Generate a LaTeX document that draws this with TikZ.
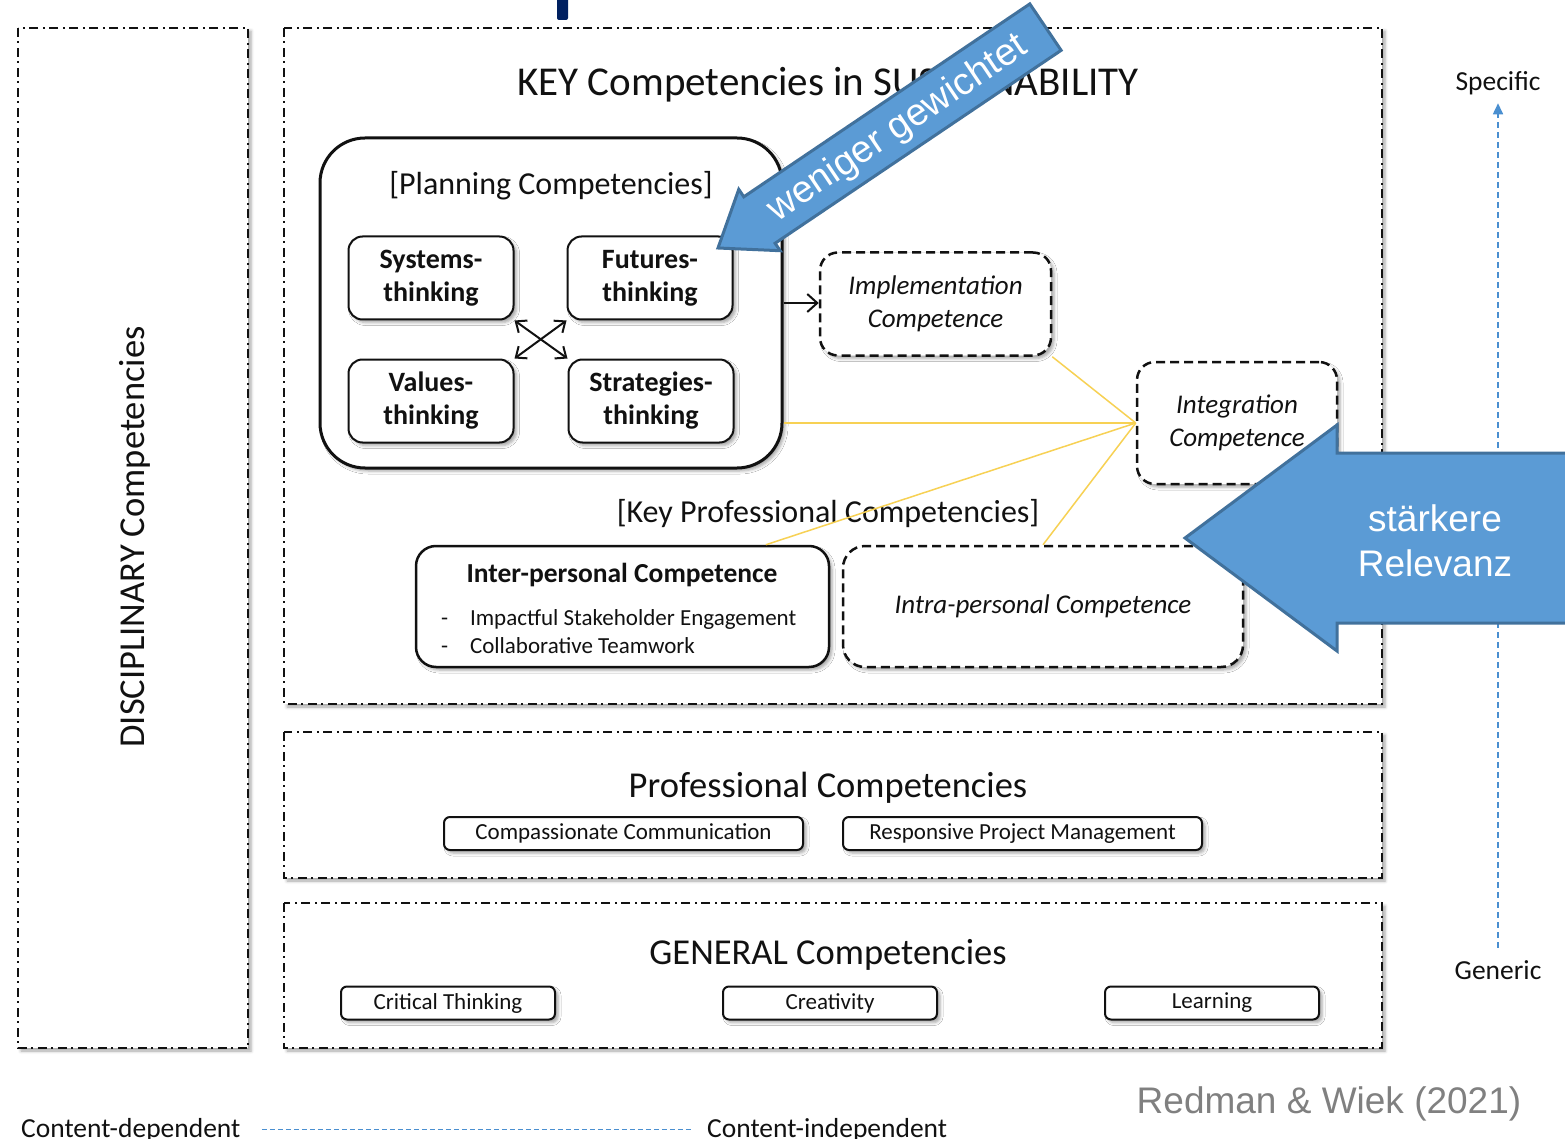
\documentclass[tikz,border=0pt]{standalone}
\usepackage{fontspec}
\setmainfont{Carlito}
\newfontfamily\arialfont{Liberation Sans}
\usetikzlibrary{arrows.meta, positioning, calc, shadows.blur}

\definecolor{arrowblue}{HTML}{5B9BD5}
\definecolor{arrowedge}{HTML}{41719C}
\definecolor{axisblue}{HTML}{4A8FD0}
\definecolor{linkyellow}{HTML}{F7D154}
\definecolor{citegray}{HTML}{808080}
\definecolor{navy}{HTML}{002060}
\definecolor{ink}{HTML}{111111}

\begin{document}
\begin{tikzpicture}[
    x=1pt, y=-1pt,
    every node/.style={text=ink},
    softshadow/.style={blur shadow={shadow xshift=3pt, shadow yshift=-3pt, shadow blur radius=3pt, shadow opacity=35}},
    frame/.style={draw=ink, line width=2.2pt, dash pattern=on 9pt off 4pt on 2pt off 5pt, fill=white, softshadow},
    heading/.style={font=\fontsize{41}{48}\selectfont},
    heading2/.style={font=\fontsize{36.5}{44}\selectfont},
    subhead/.style={font=\fontsize{32}{38}\selectfont},
    planbox/.style={draw=ink, line width=3pt, rounded corners=45pt, fill=white, softshadow},
    thinkbox/.style={draw=ink, line width=2pt, rounded corners=14pt, fill=white, softshadow,
        minimum width=165pt, minimum height=83pt, align=center, font=\bfseries\fontsize{28}{33}\selectfont},
    dashbox/.style={draw=ink, line width=2.5pt, dash pattern=on 9pt off 5pt, rounded corners=18pt,
        fill=white, softshadow, align=center, font=\itshape\fontsize{27}{33}\selectfont},
    solidbox/.style={draw=ink, line width=2.5pt, fill=white, softshadow},
    pillbox/.style={draw=ink, line width=2pt, rounded corners=6pt, fill=white, softshadow,
        minimum height=33pt, inner sep=2pt, font=\fontsize{23}{27}\selectfont},
    bullet/.style={anchor=west, font=\fontsize{23}{27}\selectfont},
    crossarrow/.style={{Straight Barb[length=9pt,width=15pt]}-{Straight Barb[length=9pt,width=15pt]}, line width=2pt, draw=ink},
    plainarrow/.style={-{Straight Barb[length=10pt,width=18pt]}, line width=2pt, draw=ink},
    link/.style={draw=linkyellow, line width=1.5pt},
    axislabel/.style={font=\fontsize{27.5}{32}\selectfont},
    axisline/.style={draw=axisblue, line width=1.6pt, dash pattern=on 6pt off 4pt},
    bluearrow/.style={fill=arrowblue, draw=arrowedge, line width=3pt, line join=miter},
    arrowtext/.style={text=white, font=\arialfont\fontsize{38}{45}\selectfont}
]
\useasboundingbox (0,0) rectangle (1565,1139);

% cut-off title piece
\fill[navy, rounded corners=2pt] (557,-5) rectangle (568,20);

% outer frames
\draw[frame] (18,28) rectangle (248,1048);
\draw[frame] (284,28) rectangle (1382,704);
\draw[frame] (284,732) rectangle (1382,878);
\draw[frame] (284,903) rectangle (1382,1048);

\node[heading2, rotate=90] (disc) at (135,537) {DISCIPLINARY Competencies};
\node[heading] (keytitle) at (828,85) {KEY Competencies in SUSTAINABILITY};

% planning competencies
\node[planbox, minimum width=462pt, minimum height=330pt] (planning) at (551,303) {};
\node[subhead] (plantitle) at (551,186) {[Planning Competencies]};
\node[thinkbox] (sys) at (431,278) {Systems-\\thinking};
\node[thinkbox] (fut) at (650,278) {Futures-\\thinking};
\node[thinkbox] (val) at (431,401) {Values-\\thinking};
\node[thinkbox] (strat) at (651,401) {Strategies-\\thinking};
\draw[crossarrow] (sys.south east) -- (strat.north west);
\draw[crossarrow] (fut.south west) -- (val.north east);

% implementation and integration
\node[dashbox, minimum width=231pt, minimum height=103pt] (impl) at (935.5,304) {Implementation\\Competence};
\node[dashbox, minimum width=200pt, minimum height=122pt] (integ) at (1237,423) {Integration\\Competence};
\draw[plainarrow] (planning.east) -- (planning.east -| impl.west);

% key professional competencies
\node[subhead] (keyprof) at (828,514) {[Key Professional Competencies]};
\node[solidbox, rounded corners=20pt, minimum width=413pt, minimum height=121pt] (interp) at (622.5,606.5) {};
\node[font=\bfseries\fontsize{27.5}{31}\selectfont] (interptitle) at (622,575) {Inter-personal Competence};
\node[bullet] (bulletA) at (437.5,619) {-\hspace{22pt}Impactful Stakeholder Engagement};
\node[bullet] (bulletB) at (437.5,646) {-\hspace{22pt}Collaborative Teamwork};
\node[dashbox, rounded corners=22pt, minimum width=400pt, minimum height=121pt] (intra) at (1043,606.5) {Intra-personal Competence};

% links to integration
\draw[link] (impl.south east) -- (integ.west);
\draw[link] (planning.east |- integ.west) -- (integ.west);
\draw[link] ($(interp.north west)!0.845!(interp.north east)$) -- (integ.west);
\draw[link] (intra.north) -- (integ.west);

% professional and general
\node[heading2] (proftitle) at (828,788) {Professional Competencies};
\node[pillbox, minimum width=359pt] (compass) at (623.5,833.5) {Compassionate Communication};
\node[pillbox, minimum width=359pt] (respons) at (1022.5,833.5) {Responsive Project Management};
\node[heading2] (gentitle) at (828,955) {GENERAL Competencies};
\node[pillbox, minimum width=214pt] (crit) at (448,1003) {Critical Thinking};
\node[pillbox, minimum width=214pt] (creat) at (830,1003) {Creativity};
\node[pillbox, minimum width=214pt] (learn) at (1212,1003) {Learning};

% axes
\node[axislabel] (specific) at (1498,83) {Specific};
\node[axislabel] (generic) at (1498,970) {Generic};
\draw[axisline, -{Triangle[length=11pt,width=10pt]}, shorten <=9pt, shorten >=5pt] (generic) -- (specific);
\node[axislabel, anchor=base west] (cdep) at (17.7,1137) {Content-dependent};
\node[axislabel, anchor=base west] (cindep) at (703.7,1137) {Content-independent};
\draw[axisline, dash pattern=on 5pt off 3pt, shorten <=18pt, shorten >=10pt] (cdep.east) -- (cindep.west);

\node[text=citegray, font=\arialfont\fontsize{37}{44}\selectfont] (cite) at (1329,1104) {Redman \& Wiek (2021)};

% blue annotation arrows
\begin{scope}[shift={(718,248)}, rotate=34]
  \draw[bluearrow] (0pt,0pt) -- (50pt,37pt) -- (50pt,28pt) -- (395pt,28pt) -- (395pt,-28pt) -- (50pt,-28pt) -- (50pt,-37pt) -- cycle;
  \node[arrowtext, rotate=34] (weniger) at (216pt,-2pt) {weniger gewichtet};
\end{scope}
\draw[bluearrow] (1185,538) -- (1337,425) -- (1337,453) -- (1575,453) -- (1575,623) -- (1337,623) -- (1337,651) -- cycle;
\node[arrowtext, align=center, font=\arialfont\fontsize{37}{45}\selectfont] (staerker) at (1435,541) {stärkere\\Relevanz};

\end{tikzpicture}
\end{document}
